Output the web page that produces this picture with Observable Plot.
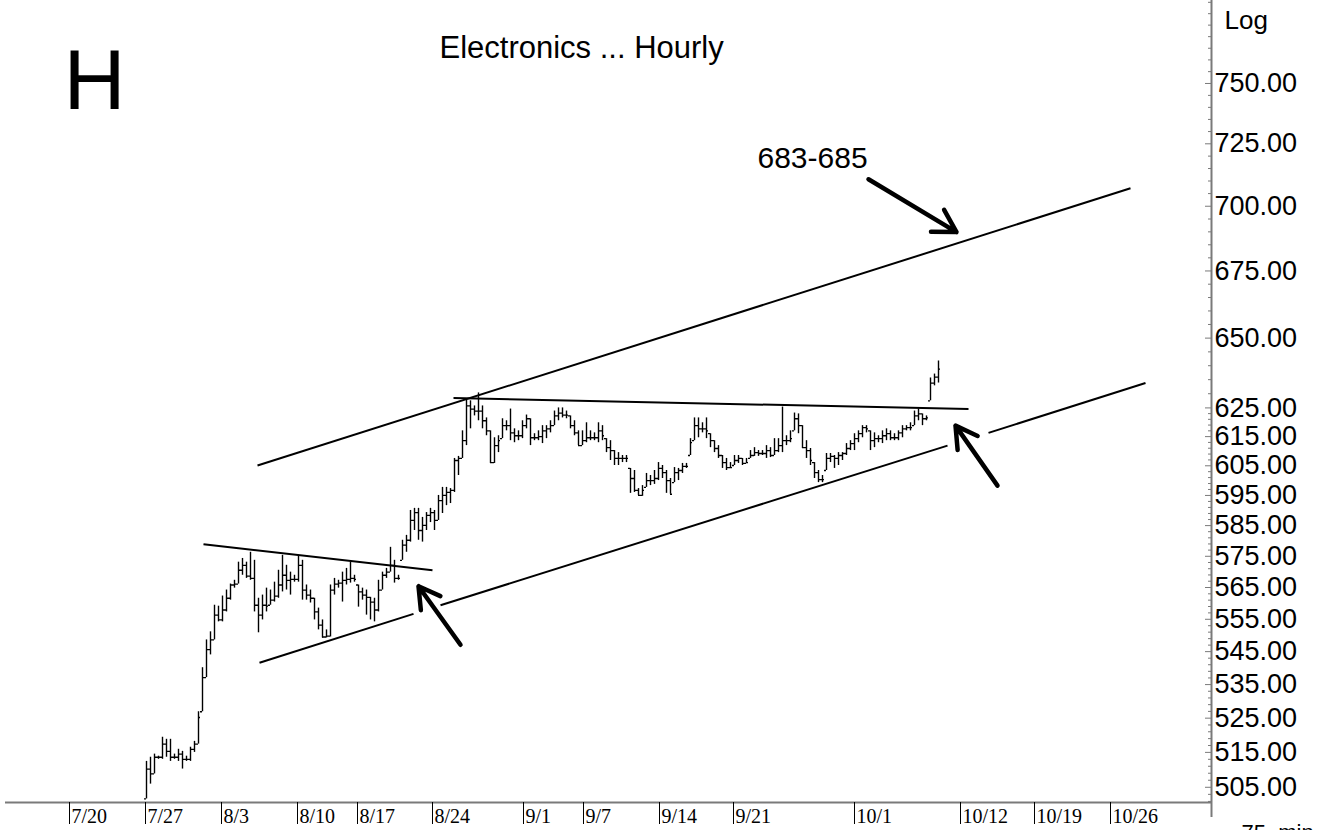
<!DOCTYPE html>
<html><head><meta charset="utf-8">
<script src="https://cdn.jsdelivr.net/npm/d3@7"></script>
<script src="https://cdn.jsdelivr.net/npm/@observablehq/plot@0.6"></script>
<style>
html,body{margin:0;padding:0;background:#fff;}
#chart{width:1318px;height:830px;overflow:hidden;}
</style></head><body><div id="chart"></div>
<script>
// 75-minute bars, one per index (bar 0 = first bar of 7/27)
const highs = [
512.4,513.6,514.5,513.9,519.4,518.8,518.8,514.5,515.9,515.3,
513.9,516.5,518.2,526.9,540.1,548.6,551.1,559.4,559.1,562.3,
564.2,566.1,567.3,573.1,574.3,573.1,576.3,573.7,561.6,562.6,
564.8,564.2,566.7,570.5,575.3,572.1,569.9,568.9,575.3,573.7,
565.8,564.2,561.6,558.5,554.8,551.7,565.8,567.9,567.3,569.9,
571.1,573.1,568.9,565.8,564.8,564.2,561.9,561.6,567.3,569.9,
571.1,577.9,573.7,568.9,580.2,581.8,590.0,590.7,590.7,587.7,
589.3,590.7,590.0,595.0,597.7,597.7,597.3,607.5,608.2,617.0,
628.2,627.5,625.7,630.3,625.7,621.5,617.0,614.6,615.3,621.2,
620.5,624.6,617.7,617.0,620.5,622.5,621.2,616.0,617.0,618.8,
618.8,620.5,623.9,625.0,625.0,623.9,622.2,620.5,617.0,617.0,
619.8,617.0,616.3,619.8,618.8,614.3,613.6,610.2,609.5,608.5,
608.5,604.1,603.4,597.3,598.3,602.4,601.7,603.4,606.1,605.1,
603.4,600.7,604.4,604.1,605.8,605.8,614.3,621.5,621.5,619.8,
621.5,616.0,613.6,611.9,608.5,607.5,606.1,608.5,608.5,607.5,
607.5,610.2,611.2,610.2,610.2,611.9,611.2,614.3,614.3,625.3,
615.3,617.0,623.2,622.9,618.8,613.6,610.9,606.1,603.4,601.7,
609.2,609.2,608.5,609.5,609.5,612.6,613.6,616.0,617.0,618.8,
618.8,617.0,616.3,615.3,617.0,617.7,617.0,616.0,617.0,618.8,
618.8,619.8,623.9,624.6,622.9,622.2,635.6,637.0,641.7];
const lows = [
501.7,505.9,508.8,513.0,513.0,513.6,512.4,513.0,512.4,510.2,
512.4,512.4,515.0,517.4,526.9,537.1,544.0,548.6,554.2,554.2,
557.3,561.0,564.8,566.1,568.9,567.9,567.3,557.3,550.8,554.8,
557.3,559.4,560.4,561.6,563.6,564.2,562.6,566.7,566.7,561.0,
561.0,560.1,554.8,551.7,549.2,549.2,549.5,562.6,564.8,560.4,
565.8,566.4,566.7,558.8,561.0,556.3,554.8,554.2,557.3,564.2,
567.9,569.9,566.4,567.3,573.7,576.3,579.6,583.4,580.2,579.6,
583.4,586.0,583.4,586.7,589.0,591.6,592.3,596.0,601.7,607.5,
611.9,617.7,622.2,620.5,617.7,615.3,605.8,605.8,609.5,614.3,
617.0,613.6,612.9,613.6,614.3,617.7,611.9,613.6,613.6,612.6,
614.3,616.3,618.8,620.5,621.5,621.2,617.7,615.3,611.9,611.9,
612.9,613.6,613.6,612.9,613.6,609.5,606.8,605.1,605.1,606.1,
606.1,595.7,596.0,595.0,594.7,597.7,598.3,598.7,600.0,600.7,
595.7,595.4,599.3,600.0,602.4,604.1,608.5,613.6,614.6,616.3,
614.3,611.2,609.5,607.5,604.1,603.4,604.1,605.1,605.8,605.1,
605.8,607.5,608.2,608.2,608.5,607.5,607.8,608.5,609.5,609.5,
611.9,612.9,617.0,616.0,610.9,607.5,605.1,600.7,599.3,599.3,
603.4,606.1,604.1,605.1,606.8,608.5,610.2,610.2,612.9,614.6,
616.3,610.2,611.2,612.9,612.6,613.6,613.6,613.6,613.6,614.6,
617.0,617.0,618.8,620.5,618.8,620.5,627.5,632.8,633.8];
const closes = [
510.2,508.8,513.6,513.6,517.4,515.3,513.6,513.6,514.5,513.0,
513.0,515.9,517.4,525.2,537.1,545.6,548.6,556.3,554.8,557.9,
561.6,565.8,566.1,570.5,572.1,568.6,567.9,559.4,556.3,559.4,
559.1,561.0,562.3,565.8,568.9,567.3,567.6,567.6,572.1,564.2,
562.6,561.6,557.3,553.2,549.5,549.8,564.2,566.1,566.4,567.3,
567.6,567.9,567.6,563.6,562.6,561.9,560.4,557.9,564.2,568.9,
569.9,572.1,567.9,567.9,578.6,580.2,586.7,589.3,583.4,585.1,
588.4,589.3,586.7,593.3,595.0,596.0,596.7,606.8,607.5,613.6,
625.7,624.6,623.9,623.9,620.5,617.0,606.1,611.9,613.6,618.8,
618.8,616.3,615.3,615.3,618.8,621.2,614.6,614.6,615.0,617.0,
617.7,618.8,622.2,623.2,622.5,622.5,618.8,616.3,611.9,613.6,
614.6,614.6,614.6,617.0,615.3,611.2,610.2,607.5,607.5,607.5,
607.5,600.7,596.7,595.0,596.7,600.0,600.0,600.7,604.1,602.7,
600.0,595.4,602.7,603.4,604.8,604.8,612.9,618.8,617.7,617.7,
617.0,613.6,610.9,608.5,606.1,604.4,604.4,606.8,607.5,605.8,
606.1,608.5,609.5,609.2,609.2,610.2,608.5,610.2,611.9,613.6,
613.6,614.3,621.2,618.8,611.2,610.2,606.8,602.7,600.3,600.3,
607.5,608.2,607.5,608.5,609.2,610.9,612.6,614.3,616.0,618.1,
617.7,613.6,614.3,614.3,615.3,616.0,614.6,614.6,616.3,617.7,
618.1,618.1,622.2,622.9,621.2,621.5,633.8,635.9,638.8];

// date axis (positions in bar units)
const dateTicks  = [-19.25, -0.25, 18.75, 37.75, 52.75, 71.5, 94.25, 109.25, 128.25, 146.75, 177, 203.5, 222, 241];
const dateLabels = ["7/20","7/27","8/3","8/10","8/17","8/24","9/1","9/7","9/14","9/21","10/1","10/12","10/19","10/26"];

// price axis (log)
const priceTicks = [750,725,700,675,650,625,615,605,595,585,575,565,555,545,535,525,515,505];
const minorTicks = [
  785,780,775,770,765,760,755,745,740,735,730,720,715,710,705,695,690,685,680,670,665,660,655,645,640,635,630,
  623,621,619,617,613,611,609,607,603,601,599,597,593,591,589,587,583,581,579,577,573,571,569,567,
  563,561,559,557,553,551,549,547,543,541,539,537,533,531,529,527,523,521,519,517,513,511,509,507,503,501];

// trend lines: start bar, start price, end bar, end price
const lineStartBar   = [14.25, 27.75, 28.25, 73.5, 210.5, 76.75];
const lineStartPrice = [578.9, 605.1, 541.6, 559.4, 616.3, 628.5];
const lineEndBar     = [71.5, 246, 66.75, 200.25, 249.75, 205.5];
const lineEndPrice   = [570.5, 707.1, 556.7, 611.9, 633.8, 624.6];

// arrows: tail -> head
const arrowFromBar   = [180.5, 78.5, 212.75];
const arrowFromPrice = [710.7, 547.1, 598.3];
const arrowToBar     = [202.5, 68, 202.25];
const arrowToPrice   = [689.9, 565.4, 618.8];

const targetLabel = "683-685";
const targetBar = 152.75, targetPrice = 719.1;

const titleText = "Electronics ... Hourly";

const bars = highs.map((h, i) => {
  const prev = i ? closes[i - 1] : lows[i];
  return {i, high: h, low: lows[i], close: closes[i], open: Math.max(lows[i], Math.min(h, prev))};
});
const trend = lineStartBar.map((x, k) => ({x1: x, y1: lineStartPrice[k], x2: lineEndBar[k], y2: lineEndPrice[k]}));
const arrows = arrowFromBar.map((x, k) => ({x1: x, y1: arrowFromPrice[k], x2: arrowToBar[k], y2: arrowToPrice[k]}));

const GREY = "#7a7a7a";
const chart = Plot.plot({
  width: 1318, height: 830,
  marginLeft: 5, marginRight: 107, marginTop: 0, marginBottom: 28,
  x: {domain: [-35.25, 266.25], axis: null},
  y: {type: "log", domain: [500.7, 785.8], axis: null},
  style: {background: "white", fontFamily: "'Liberation Sans', Arial, sans-serif", color: "black"},
  marks: [
    // axes lines
    Plot.ruleY([500.7], {stroke: GREY, strokeWidth: 2}),
    Plot.ruleX([266.25], {stroke: GREY, strokeWidth: 2}),
    Plot.axisX([266.25], {anchor: "bottom", tickSize: 15, tickFormat: () => "", stroke: GREY, strokeWidth: 2, label: null}),
    Plot.axisX(dateTicks, {anchor: "bottom", tickSize: 22, tickFormat: () => "", stroke: "black", label: null}),
    Plot.text(dateLabels, {x: (d, k) => dateTicks[k], frameAnchor: "bottom", lineAnchor: "middle", textAnchor: "start",
      dx: 2, dy: 14, fontSize: 20, fontFamily: "'Liberation Serif', serif", fill: "black"}),
    Plot.axisY(minorTicks, {anchor: "right", tickSize: -4, tickFormat: () => "", stroke: GREY, label: null}),
    Plot.axisY(priceTicks, {anchor: "right", tickSize: -7, tickPadding: 10, tickFormat: d => d.toFixed(2),
      fontSize: 27, stroke: GREY, fill: "black", label: null}),
    // trend lines
    Plot.link(trend, {x1: "x1", y1: "y1", x2: "x2", y2: "y2", stroke: "black", strokeWidth: 2}),
    // OHLC bars
    Plot.ruleX(bars, {x: "i", y1: "low", y2: "high", stroke: "black", strokeWidth: 1.4}),
    Plot.ruleY(bars, {y: "open", x1: d => d.i - 0.5, x2: "i", stroke: "black", strokeWidth: 1.3}),
    Plot.ruleY(bars, {y: "close", x1: "i", x2: d => d.i + 0.5, stroke: "black", strokeWidth: 1.3}),
    // arrows
    Plot.arrow(arrows, {x1: "x1", y1: "y1", x2: "x2", y2: "y2", stroke: "black", strokeWidth: 4.5, headLength: 8.5, headAngle: 60}),
    // annotations
    Plot.text([targetLabel], {x: targetBar, y: targetPrice, textAnchor: "start", lineAnchor: "middle", fontSize: 30, fill: "black"}),
    Plot.text([titleText], {frameAnchor: "top-left", lineAnchor: "middle", dx: 434, dy: 48, textAnchor: "start", fontSize: 31, fill: "black"}),
    Plot.text(["H"], {frameAnchor: "top-left", lineAnchor: "middle", dx: 58, dy: 81, textAnchor: "start", fontSize: 86, fill: "black"}),
    Plot.text(["Log"], {frameAnchor: "top-right", lineAnchor: "middle", dx: 13, dy: 20, textAnchor: "start", fontSize: 26, fill: "black"}),
    Plot.text(["75  min"], {frameAnchor: "bottom-right", lineAnchor: "middle", dx: 30, dy: 30, textAnchor: "start", fontSize: 22, fill: "black"})
  ]
});
document.getElementById("chart").appendChild(chart);
</script>
</body></html>
